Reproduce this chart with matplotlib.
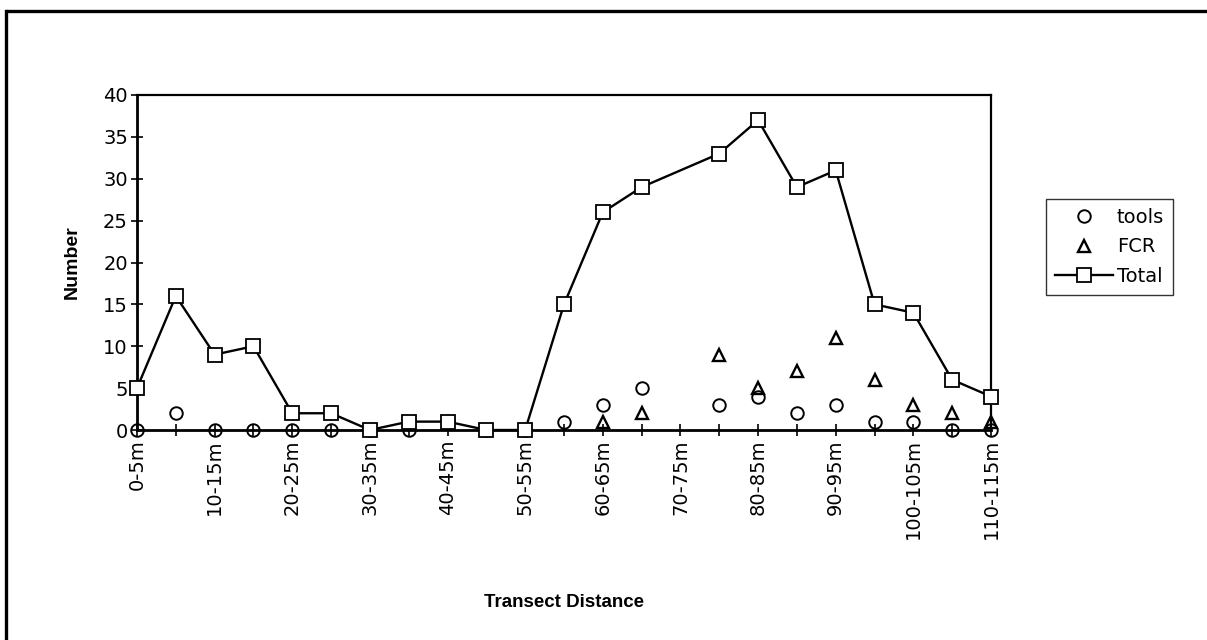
import matplotlib
matplotlib.use("Agg")
import matplotlib.pyplot as plt
from matplotlib.lines import Line2D

plt.rcParams['font.family'] = ['DejaVu Sans']

categories = ["0-5m", "5-10m", "10-15m", "15-20m", "20-25m", "25-30m", "30-35m",
              "35-40m", "40-45m", "45-50m", "50-55m", "55-60m", "60-65m", "65-70m",
              "70-75m", "75-80m", "80-85m", "85-90m", "90-95m", "95-100m",
              "100-105m", "105-110m", "110-115m"]
tools = [0, 2, 0, 0, 0, 0, 0, 0, 1, 0, 0, 1, 3, 5, None, 3, 4, 2, 3, 1, 1, 0, 0]
fcr = [None, None, None, None, None, None, None, None, None, None, None, None,
       1, 2, None, 9, 5, 7, 11, 6, 3, 2, 1]
total = [5, 16, 9, 10, 2, 2, 0, 1, 1, 0, 0, 15, 26, 29, None, 33, 37, 29, 31,
         15, 14, 6, 4]
y_ticks = [0, 5, 10, 15, 20, 25, 30, 35, 40]


def valid(vals):
    xs = [i for i, v in enumerate(vals) if v is not None]
    ys = [v for v in vals if v is not None]
    return xs, ys


fig = plt.figure(figsize=(12.07, 6.40), dpi=100)
ax = fig.add_axes([137 / 1207, 1 - 430 / 640, (991 - 137) / 1207, (430 - 95) / 640])

tx, ty = valid(tools)
ax.plot(tx, ty, linestyle='none', marker='o', markersize=9,
        markerfacecolor='none', markeredgecolor='black', markeredgewidth=1.4,
        label='tools', clip_on=False, zorder=3)
fx, fy = valid(fcr)
ax.plot(fx, fy, linestyle='none', marker='^', markersize=9,
        markerfacecolor='none', markeredgecolor='black', markeredgewidth=1.7,
        label='FCR', clip_on=False, zorder=3)
sx, sy = valid(total)
ax.plot(sx, sy, color='black', linewidth=1.7, marker='s', markersize=9.5,
        markerfacecolor='white', markeredgecolor='black', markeredgewidth=1.3,
        label='Total', clip_on=False, zorder=4)

ax.set_xlim(0, len(categories) - 1)
ax.set_ylim(0, 40)
ax.set_yticks(y_ticks)
ax.set_yticklabels([str(v) for v in y_ticks], fontsize=14)
ax.set_xticks(range(len(categories)))
ax.set_xticklabels([c if i % 2 == 0 else '' for i, c in enumerate(categories)],
                   rotation=90, fontsize=14)
ax.tick_params(axis='both', direction='inout', length=9, width=1.2, color='black')
ax.tick_params(axis='y', pad=2)
ax.tick_params(axis='x', pad=2)
for s in ax.spines.values():
    s.set_linewidth(1.6)
    s.set_color('black')
ax.spines['left'].set_linewidth(2)
ax.spines['bottom'].set_linewidth(2)

ax.set_ylabel('Number', fontsize=14, fontweight='bold',
              family=['Liberation Sans', 'DejaVu Sans'])
ax.yaxis.set_label_coords(-0.066, 0.5)
ax.set_xlabel('Transect Distance', fontsize=13.5, fontweight='bold',
              family=['Liberation Sans Narrow', 'Liberation Sans'])
ax.xaxis.set_label_coords(0.5, -0.49)

leg = fig.legend(loc='upper left', bbox_to_anchor=(1046 / 1207, 1 - 199 / 640),
                 frameon=True, fancybox=False, shadow=False, fontsize=14,
                 handlelength=3.0, handletextpad=0.2, borderpad=0.45,
                 labelspacing=0.55, borderaxespad=0)
leg.get_frame().set_edgecolor('black')
leg.get_frame().set_linewidth(1.0)

# outer border (top and left)
fig.add_artist(Line2D([8 / 1207, 1], [1 - 11 / 640, 1 - 11 / 640],
                      transform=fig.transFigure, color='black', linewidth=2.4))
fig.add_artist(Line2D([6 / 1207, 6 / 1207], [1 - 11 / 640, 0],
                      transform=fig.transFigure, color='black', linewidth=2.4))

fig.savefig('out.png', dpi=100)
